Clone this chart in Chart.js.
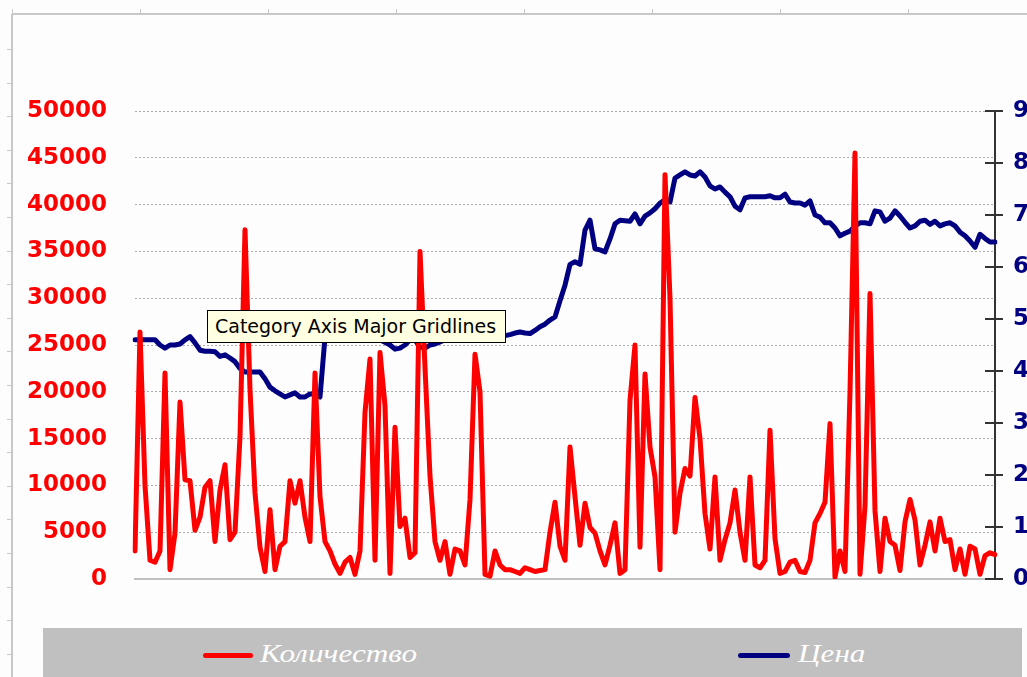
<!DOCTYPE html>
<html>
<head>
<meta charset="utf-8">
<script src="https://cdn.jsdelivr.net/npm/chart.js@4.4.1/dist/chart.umd.min.js"></script>
<style>
html,body{margin:0;padding:0;background:#fdfdfd;}
#wrap{position:relative;width:1027px;height:677px;overflow:hidden;background:#fdfdfd;}
#c{position:absolute;left:0;top:0;}
#legend{position:absolute;left:43px;top:628px;width:979px;height:60px;background:#c0c0c0;}
.swatch{position:absolute;top:25px;height:5px;border-radius:3px;}
.lbl{position:absolute;top:13px;font-family:"Liberation Serif","Times New Roman",serif;font-style:italic;font-size:26px;line-height:26px;color:#ffffff;white-space:nowrap;transform:scaleX(1.2);transform-origin:0 50%;}
#tip{position:absolute;left:207px;top:310px;width:290px;height:31px;padding-left:7px;background:#ffffe1;border:1px solid #000;font-family:"DejaVu Sans",sans-serif;font-size:19px;line-height:30px;color:#000;white-space:nowrap;}
</style>
</head>
<body>
<div id="wrap">
  <canvas id="c" width="1027" height="677"></canvas>
  <div id="legend">
    <div class="swatch" style="left:160px;width:50px;background:#ff0000;"></div>
    <div class="lbl" style="left:217px;">Количество</div>
    <div class="swatch" style="left:695px;width:52px;background:#000080;"></div>
    <div class="lbl" style="left:755px;">Цена</div>
  </div>
  <div id="tip">Category Axis Major Gridlines</div>
</div>
<script>
// Количество (volume), left axis
const quantity = [
  3000, 26400, 10000, 2000, 1800, 3000, 22000, 1000, 4900, 18900,
  10600, 10500, 5200, 6600, 9800, 10500, 4000, 9500, 12200, 4200,
  5000, 15200, 37300, 20200, 9200, 3400, 800, 7400, 1000, 3500,
  4000, 10500, 8100, 10500, 6600, 4000, 22000, 8800, 4000, 3000,
  1600, 600, 1800, 2300, 500, 3000, 17800, 23500, 2000, 24200,
  18500, 600, 16200, 5600, 6500, 2300, 2800, 35000, 22600, 11000,
  4000, 2000, 4000, 500, 3200, 3000, 1500, 8500, 24000, 20000,
  500, 300, 3000, 1500, 1000, 1000, 800, 600, 1200, 1000,
  800, 900, 1000, 5000, 8200, 3500, 2000, 14100, 8800, 3600,
  8100, 5500, 4900, 3000, 1500, 3600, 6000, 600, 1000, 19100,
  25000, 3400, 21900, 14100, 10900, 1000, 43200, 30000, 5000, 9200,
  11800, 11000, 19400, 15000, 7000, 3200, 10900, 2000, 4200, 6000,
  9500, 5000, 2000, 10900, 1500, 1200, 2000, 15900, 4300, 600,
  800, 1800, 2000, 800, 700, 2000, 6000, 7000, 8200, 16600,
  200, 3000, 800, 20000, 45500, 500, 7800, 30500, 7300, 800,
  6500, 4000, 3600, 900, 6100, 8500, 6300, 1500, 3600, 6100,
  3000, 6500, 4000, 4200, 1000, 3200, 500, 3500, 3200, 500,
  2500, 2800, 2600
];
// Цена (price), right axis
const price = [
  46.0, 46.0, 46.0, 46.0, 46.0, 45.0, 44.4, 45.0, 45.0, 45.2,
  46.0, 46.6, 45.4, 44.0, 43.8, 43.8, 43.7, 42.8, 43.1, 42.5,
  41.8, 40.5, 39.8, 39.8, 39.8, 39.8, 38.5, 36.9, 36.2, 35.6,
  35.0, 35.4, 35.8, 35.0, 35.0, 35.6, 35.6, 35.0, 46.5, 47.0,
  47.2, 47.0, 46.8, 46.5, 46.5, 46.0, 46.0, 46.5, 46.5, 46.0,
  45.5, 45.0, 44.2, 44.4, 45.0, 46.0, 46.0, 44.6, 44.4, 45.0,
  45.2, 45.6, 46.0, 46.0, 46.4, 46.4, 46.0, 46.4, 46.4, 46.6,
  46.4, 46.8, 46.6, 46.6, 46.8, 47.0, 47.3, 47.5, 47.3, 47.2,
  47.8, 48.5, 49.0, 49.8, 50.4, 53.5, 56.5, 60.5, 61.0, 60.5,
  67.1, 69.0, 63.5, 63.3, 62.9, 65.4, 68.3, 69.0, 68.9, 68.8,
  70.2, 68.3, 69.8, 70.4, 71.2, 72.3, 72.9, 72.5, 77.1, 77.7,
  78.3, 77.7, 77.5, 78.3, 77.3, 75.6, 75.0, 75.4, 74.4, 73.5,
  71.7, 71.0, 73.3, 73.5, 73.5, 73.5, 73.5, 73.7, 73.3, 73.3,
  74.0, 72.5, 72.3, 72.3, 71.9, 72.7, 70.0, 69.6, 68.5, 68.5,
  67.5, 66.0, 66.5, 66.9, 67.9, 68.5, 68.5, 68.3, 70.8, 70.6,
  68.8, 69.4, 70.8, 69.8, 68.6, 67.5, 67.9, 68.8, 69.0, 68.2,
  68.8, 67.9, 68.3, 68.5, 67.9, 66.7, 66.0, 65.0, 63.8, 66.3,
  65.5, 64.8, 64.8
];
// categories: trading day numbers
const days = quantity.map((_, i) => String(i + 1));
// axis ranges / steps
const qtyAxis = {min: 0, max: 50000, step: 5000};
const priceAxis = {min: 0, max: 90, step: 10};

const tickFont = {family: 'DejaVu Sans', size: 23, weight: 'bold'};

const framePlugin = {
  id: 'frame',
  beforeDraw(chart) {
    const c = chart.ctx;
    c.save();
    c.fillStyle = '#fdfdfd';
    c.fillRect(0, 0, chart.width, chart.height);
    c.strokeStyle = '#c8c8c8';
    c.lineWidth = 2;
    c.beginPath();
    c.moveTo(12, 14); c.lineTo(chart.width, 14);
    c.moveTo(12, 14); c.lineTo(12, chart.height);
    c.stroke();
    c.lineWidth = 1;
    c.beginPath();
    for (let x = 12; x < chart.width; x += 128) { c.moveTo(x + 0.5, 9); c.lineTo(x + 0.5, 14); }
    for (let y = 49; y < chart.height; y += 33.6) { c.moveTo(7, Math.round(y) + 0.5); c.lineTo(12, Math.round(y) + 0.5); }
    c.stroke();
    c.restore();
  },
  afterDraw(chart) {
    const s = chart.scales.y1;
    const c = chart.ctx;
    c.save();
    c.strokeStyle = '#333333';
    c.lineWidth = 2;
    c.beginPath();
    s.ticks.forEach(t => {
      const y = Math.round(s.getPixelForValue(t.value));
      c.moveTo(s.left - 10, y);
      c.lineTo(s.left + 8, y);
    });
    c.stroke();
    c.restore();
  }
};

new Chart(document.getElementById('c'), {
  type: 'line',
  data: {
    labels: days,
    datasets: [
      {label: 'Количество', data: quantity, yAxisID: 'y', borderColor: '#ff0000', backgroundColor: '#ff0000',
       borderWidth: 5, pointRadius: 0, tension: 0, borderJoinStyle: 'round', borderCapStyle: 'round'},
      {label: 'Цена', data: price, yAxisID: 'y1', borderColor: '#000080', backgroundColor: '#000080',
       borderWidth: 5, pointRadius: 0, tension: 0, borderJoinStyle: 'round', borderCapStyle: 'round'}
    ]
  },
  options: {
    responsive: false,
    animation: false,
    devicePixelRatio: 1,
    events: [],
    layout: {padding: {top: 111, left: 0, right: 0, bottom: 0}},
    plugins: {legend: {display: false}, tooltip: {enabled: false}, title: {display: false}},
    scales: {
      x: {
        type: 'category', offset: false,
        grid: {display: false, drawTicks: false},
        ticks: {display: false},
        border: {display: true, color: '#c0c0c0', width: 2},
        afterFit(s) { s.height = 98; }
      },
      y: {
        position: 'left', min: qtyAxis.min, max: qtyAxis.max,
        ticks: {stepSize: qtyAxis.step, color: '#ff0000', font: tickFont, padding: 28,
                callback: v => String(v)},
        grid: {color: '#ababab', lineWidth: 1, drawTicks: false},
        border: {display: false, dash: [2, 2]},
        afterFit(s) { s.width = 135; }
      },
      y1: {
        position: 'right', min: priceAxis.min, max: priceAxis.max,
        ticks: {stepSize: priceAxis.step, color: '#000080', font: tickFont, padding: 18,
                callback: v => String(v)},
        grid: {drawOnChartArea: false, drawTicks: false},
        border: {display: true, color: '#333333', width: 2},
        afterFit(s) { s.width = 32; }
      }
    }
  },
  plugins: [framePlugin]
});
</script>
</body>
</html>
